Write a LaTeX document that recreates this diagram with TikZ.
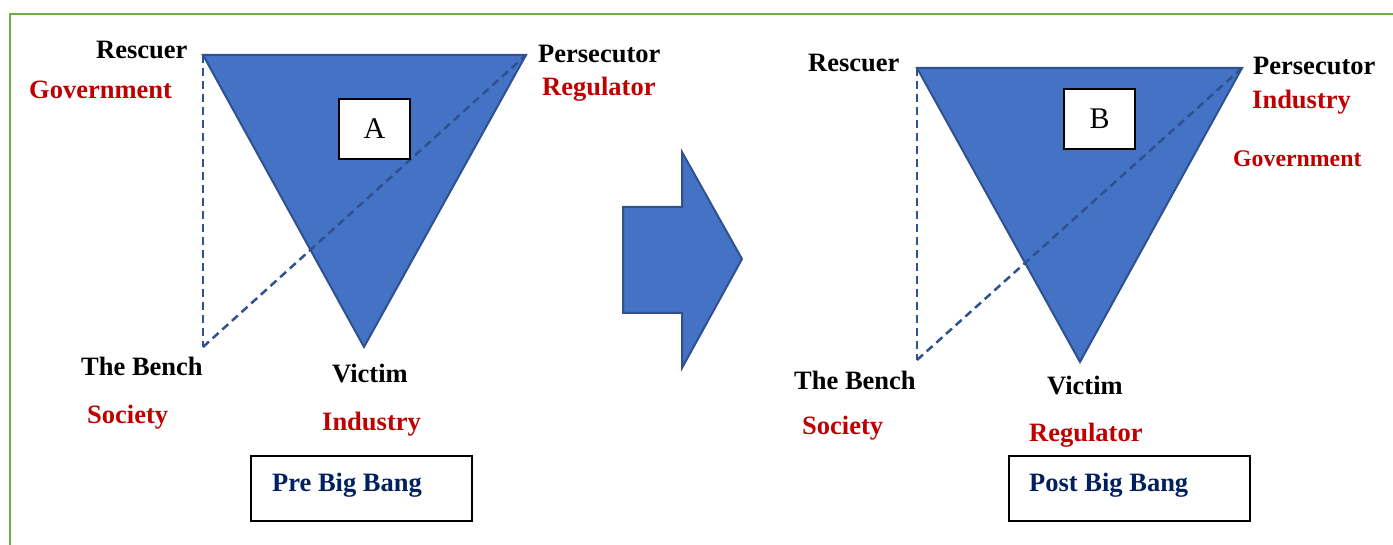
\documentclass[tikz,border=0pt]{standalone}
\usepackage{fontspec}
\setmainfont{Liberation Serif}
\definecolor{triblue}{HTML}{4472C4}
\definecolor{edgeblue}{HTML}{2F528F}
\definecolor{labelred}{HTML}{C00000}
\definecolor{titleblue}{HTML}{002060}
\definecolor{frame}{HTML}{70AD47}
\tikzset{
  role/.style={anchor=base west, inner sep=0pt, font=\fontsize{26.5}{30}\selectfont\bfseries, text=black},
  actor/.style={role, text=labelred},
  smallactor/.style={role, text=labelred, font=\fontsize{23.8}{28}\selectfont\bfseries},
  tri/.style={fill=triblue, draw=edgeblue, line width=2pt, line join=miter},
  link/.style={draw=edgeblue, line width=2.5pt, dash pattern=on 8pt off 5pt},
  tag/.style={draw=black, fill=white, line width=1.2pt, inner sep=0pt, font=\fontsize{30}{34}\selectfont},
  caption/.style={draw=black, line width=1.5pt, inner sep=0pt},
  captiontext/.style={anchor=base west, inner sep=0pt, font=\fontsize{26.5}{30}\selectfont\bfseries, text=titleblue}
}
\begin{document}
\begin{tikzpicture}[x=1pt, y=-1pt]
\useasboundingbox (0,0) rectangle (1393,545);

% frame lines along the top and left edges
\draw[frame, line width=2.5pt] (10,545) -- (10,14) -- (1393,14);

% ---------- left triangle ----------
\coordinate (rA) at (203,55);
\coordinate (pA) at (526,55);
\coordinate (vA) at (364,347);
\coordinate (bA) at (203,347);
\fill[tri] (rA) -- (pA) -- (vA) -- cycle;
\draw[link] (rA) -- (bA);
\draw[link] (bA) -- (pA);
\node[tag, minimum width=71pt, minimum height=60pt] (boxA) at (374.5,129) {A};

\node[role]  (rescA) at (96,59)  {Rescuer};
\node[actor] (govA)  at (29,99)  {Government};
\node[role]  (persA) at (538,63) {Persecutor};
\node[actor] (regA)  at (542,96) {Regulator};
\node[role]  (benA)  at (81,376) {The Bench};
\node[actor] (socA)  at (87,423) {Society};
\node[role]  (vicA)  at (332,383) {Victim};
\node[actor] (indA)  at (322,430) {Industry};

\node[caption, minimum width=221pt, minimum height=65pt] (preBox) at (361.5,488.5) {};
\node[captiontext] (preText) at (272,491) {Pre Big Bang};

% ---------- block arrow ----------
\fill[tri] (623,207) -- (682,207) -- (682,152) -- (742,259) -- (682,368) -- (682,313) -- (623,313) -- cycle;

% ---------- right triangle ----------
\coordinate (rB) at (917,68);
\coordinate (pB) at (1242,68);
\coordinate (vB) at (1080,362);
\coordinate (bB) at (917,360);
\fill[tri] (rB) -- (pB) -- (vB) -- cycle;
\draw[link] (rB) -- (pB);
\draw[link] (rB) -- (bB);
\draw[link] (bB) -- (pB);
\node[tag, minimum width=71pt, minimum height=60pt] (boxB) at (1099.5,119) {B};

\node[role]       (rescB) at (808,72)   {Rescuer};
\node[role]       (persB) at (1253,75)  {Persecutor};
\node[actor]      (indB)  at (1252,109) {Industry};
\node[smallactor] (govB)  at (1233,167) {Government};
\node[role]       (benB)  at (794,389)  {The Bench};
\node[actor]      (socB)  at (802,435)  {Society};
\node[role]       (vicB)  at (1047,395) {Victim};
\node[actor]      (regB)  at (1029,442) {Regulator};

\node[caption, minimum width=241pt, minimum height=65pt] (postBox) at (1129.5,488.5) {};
\node[captiontext] (postText) at (1029,491) {Post Big Bang};
\end{tikzpicture}
\end{document}
